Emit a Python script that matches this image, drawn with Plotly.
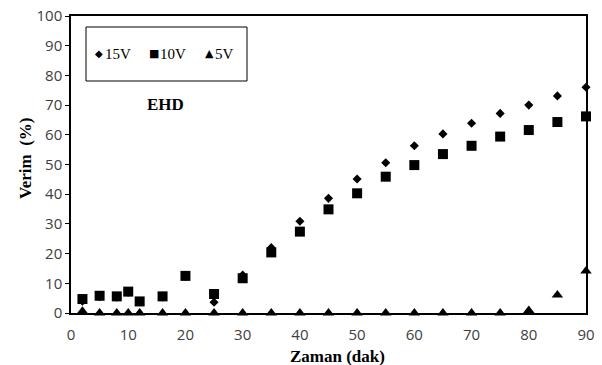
import plotly.graph_objects as go

# ---- data ----
zaman = [2, 5, 8, 10, 12, 16, 20, 25, 30, 35, 40, 45, 50, 55, 60, 65, 70, 75, 80, 85, 90]
v15 = [4.0, 5.5, 5.3, 7.0, 3.8, 5.4, 12.3, 3.6, 12.8, 22.0, 30.9, 38.6, 45.1, 50.6, 56.3, 60.3, 63.9, 67.2, 70.0, 73.1, 76.0]
v10 = [4.7, 5.8, 5.6, 7.2, 3.9, 5.6, 12.5, 6.4, 11.7, 20.4, 27.4, 34.9, 40.3, 45.9, 49.8, 53.5, 56.3, 59.4, 61.6, 64.3, 66.2]
v5 = [0.6, 0, 0, 0, 0, 0, 0, 0, 0, 0, 0, 0, 0, 0, 0, 0, 0, 0, 0.8, 6.1, 14.1]
series_names = ["15V", "10V", "5V"]
legend_glyphs = ["◆", "■", "▲"]
x_ticks = [0, 10, 20, 30, 40, 50, 60, 70, 80, 90]
y_ticks = [0, 10, 20, 30, 40, 50, 60, 70, 80, 90, 100]
x_title = "Zaman (dak)"
y_title = "Verim  (%)"
panel_label = "EHD"

fig = go.Figure()
fig.add_trace(go.Scatter(x=zaman, y=v15, mode="markers", name=series_names[0],
                         marker=dict(symbol="diamond", size=7, color="black"), cliponaxis=False))
fig.add_trace(go.Scatter(x=zaman, y=v10, mode="markers", name=series_names[1],
                         marker=dict(symbol="square", size=10, color="black"), cliponaxis=False))
fig.add_trace(go.Scatter(x=zaman, y=v5, mode="markers", name=series_names[2],
                         marker=dict(symbol="triangle-up", size=10, color="black"), cliponaxis=False))

tickfont = dict(family="Open Sans", size=15, color="#404040")
serif = "Liberation Serif, Times New Roman, serif"
boldfont = dict(family=serif, size=17, color="black", weight="bold")

L, T, W, H = 71, 16, 515, 297


def px(xp):
    return (xp - L) / W


def py(yp):
    return (T + H - yp) / H


fig.update_layout(
    width=602, height=365,
    margin=dict(l=L, r=602 - L - W, t=T, b=365 - T - H),
    paper_bgcolor="white", plot_bgcolor="white",
    showlegend=False,
    xaxis=dict(range=[0, 90], tickvals=x_ticks, showgrid=False, zeroline=False,
               showline=True, linecolor="black", linewidth=1.5, mirror=True,
               ticks="outside", ticklen=7, tickcolor="rgba(0,0,0,0)",
               tickfont=tickfont, automargin=False),
    yaxis=dict(range=[0, 100], tickvals=y_ticks, showgrid=False, zeroline=False,
               showline=True, linecolor="black", linewidth=1.5, mirror=True,
               ticks="outside", ticklen=4, tickcolor="black", tickfont=tickfont,
               ticksuffix="\u2002", automargin=False),
)

# axis titles
fig.add_annotation(xref="paper", yref="paper", x=px(337), y=py(356), text=x_title,
                   showarrow=False, xanchor="center", yanchor="middle", font=boldfont)
fig.add_annotation(xref="paper", yref="paper", x=px(25), y=py(158), text=y_title,
                   showarrow=False, xanchor="center", yanchor="middle", textangle=-90, font=boldfont)

# legend box
fig.add_shape(type="rect", xref="paper", yref="paper",
              x0=px(86), x1=px(247), y0=py(81), y1=py(27),
              line=dict(color="black", width=1), fillcolor="white", layer="above")

glyph_x = [99, 154, 209]
glyph_size = [10, 11, 11]
for g, n, gx, gs in zip(legend_glyphs, series_names, glyph_x, glyph_size):
    fig.add_annotation(xref="paper", yref="paper", x=px(gx), y=py(54), text=g,
                       showarrow=False, xanchor="center", yanchor="middle",
                       font=dict(family="DejaVu Sans", size=gs, color="black"))
    fig.add_annotation(xref="paper", yref="paper", x=px(gx + 4), y=py(54), text=n,
                       showarrow=False, xanchor="left", yanchor="middle",
                       font=dict(family=serif, size=15, color="black"))

fig.add_annotation(xref="paper", yref="paper", x=px(165), y=py(105),
                   text=panel_label, showarrow=False,
                   xanchor="center", yanchor="middle", font=boldfont)

fig.write_html("out.html")
